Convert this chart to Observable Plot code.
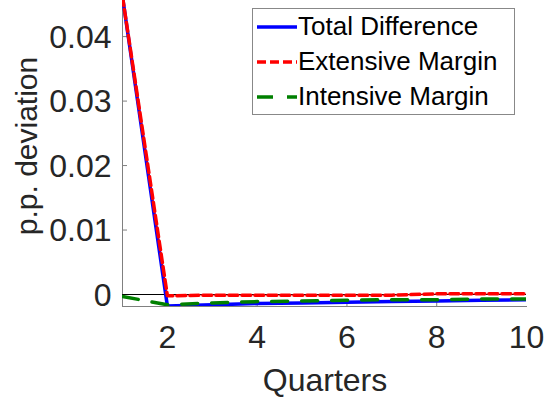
<!DOCTYPE html>
<html><head><meta charset="utf-8">
<script src="https://cdn.jsdelivr.net/npm/d3@7"></script>
<script src="https://cdn.jsdelivr.net/npm/@observablehq/plot@0.6"></script>
<style>
body{margin:0;background:#fff;font-family:"Liberation Sans",Arial,sans-serif;}
#wrap{position:relative;width:553px;height:400px;}
#legend{position:absolute;left:252px;top:8px;width:263px;height:107px;border:1px solid #888;background:#fff;box-sizing:border-box;}
#legend .row{position:absolute;left:0;height:35px;display:flex;align-items:center;white-space:nowrap;}
#legend span{font-size:26px;color:#000;margin-left:1px;}
</style></head>
<body><div id="wrap"><div id="chart"></div><div id="legend"></div></div>
<script>
const quarters = [1,2,3,4,5,6,7,8,9,10];
const totalDiff = [0.0462,-0.0018,-0.0016,-0.0014,-0.0013,-0.0012,-0.0011,-0.0010,-0.0009,-0.0008];
const extensive = [0.0462,-0.0002,-0.0001,-0.0001,-0.0001,-0.0001,-0.0001,0.0001,0.0001,0.0001];
const intensive = [-0.0003,-0.0016,-0.0013,-0.0011,-0.0010,-0.0009,-0.0008,-0.0008,-0.0007,-0.0007];
const yTicks = [0,0.01,0.02,0.03,0.04];
const xTicks = [2,4,6,8,10];
const seriesNames = ["Total Difference","Extensive Margin","Intensive Margin"];
const seriesColors = ["#0000ff","#ff0000","#008000"];
const seriesDash = [null,"9,4","16,14"];

const mk = vals => quarters.map((q,i)=>({q, v: vals[i]}));
const data = [mk(totalDiff), mk(extensive), mk(intensive)];

const chart = Plot.plot({
  width: 553, height: 400,
  marginLeft: 122, marginRight: 27, marginTop: 0, marginBottom: 94,
  style: {fontFamily: '"Liberation Sans", Arial, sans-serif', background: "#fff", color: "#262626"},
  x: {domain: [1,10], label: null},
  y: {domain: [-0.00186, 0.0456], label: null},
  marks: [
    Plot.frame({anchor: "left", stroke: "#808080"}),
    Plot.frame({anchor: "bottom", stroke: "#808080"}),
    Plot.axisX(xTicks, {tickSize: 0, tickPadding: 19, fill: "#262626", tickFormat: d => String(d)}),
    Plot.axisX([2,4,6,8], {tickSize: -5, text: null, stroke: "#808080"}),
    Plot.axisY(yTicks, {tickSize: 0, tickPadding: 11, dy: 1, fill: "#262626", tickFormat: d => d === 0 ? "0" : d3.format(".2f")(d)}),
    Plot.axisY([0.01,0.02,0.03,0.04], {tickSize: -5, text: null, stroke: "#808080"}),
    Plot.ruleY([0], {stroke: "#000", strokeWidth: 1}),
    ...data.map((d,i) => Plot.line(d, {x: "q", y: "v", stroke: seriesColors[i], strokeWidth: 3.5, strokeDasharray: seriesDash[i], clip: true}))
  ]
});
document.getElementById("chart").appendChild(chart);

const svg = d3.select(chart);
svg.selectAll('g[aria-label="x-axis tick label"], g[aria-label="y-axis tick label"]')
  .attr("font-size", 32).style("font-size", "32px");

// axis titles
svg.append("text").attr("x", 325).attr("y", 391).attr("text-anchor","middle")
  .attr("font-size", 32).attr("fill","#262626").text("Quarters");
svg.append("text").attr("transform","translate(37,146) rotate(-90)").attr("text-anchor","middle")
  .attr("font-size", 30).attr("fill","#262626").text("p.p. deviation");

// legend
const leg = document.getElementById("legend");
seriesNames.forEach((name,i) => {
  const row = document.createElement("div");
  row.className = "row";
  row.style.top = (0 + i*35) + "px";
  const dash = seriesDash[i] ? `stroke-dasharray="${seriesDash[i]}"` : "";
  row.innerHTML = `<svg width="44" height="10"><line x1="4" x2="44" y1="5" y2="5" stroke="${seriesColors[i]}" stroke-width="3.5" ${dash}/></svg><span>${name}</span>`;
  leg.appendChild(row);
});
</script></body></html>
